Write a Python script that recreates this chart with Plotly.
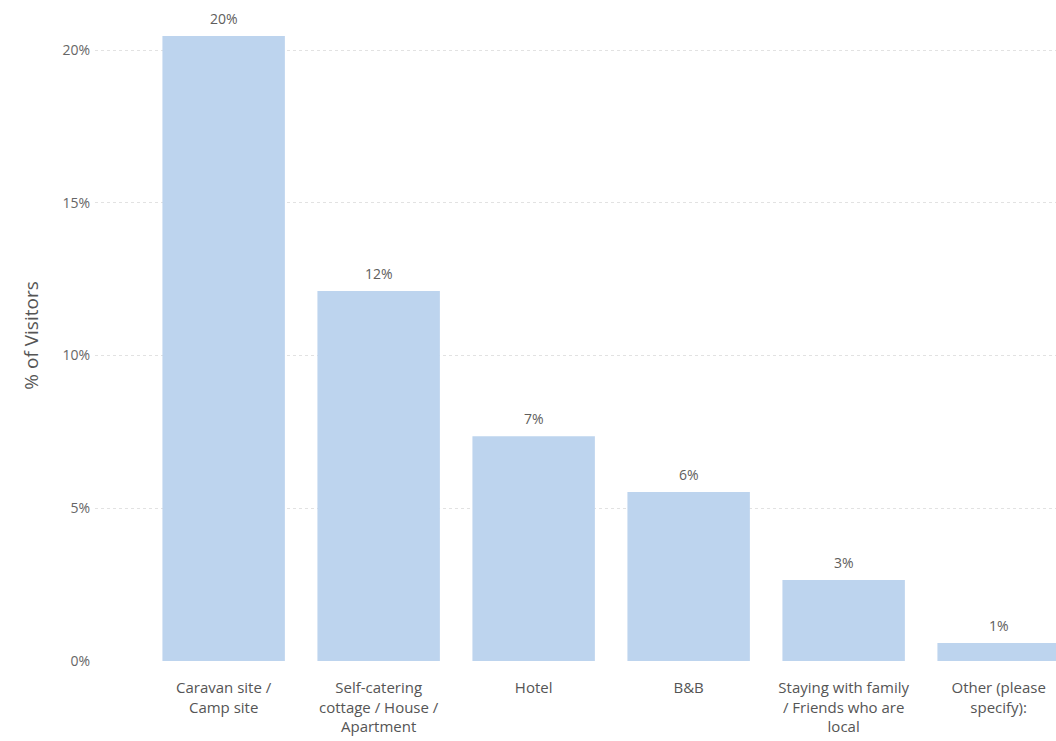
import plotly.graph_objects as go

# Where visitors stayed, share of all visitors
categories = [
    "Caravan site /<br>Camp site",
    "Self-catering<br>cottage / House /<br>Apartment",
    "Hotel",
    "B&B",
    "Staying with family<br>/ Friends who are<br>local",
    "Other (please<br>specify):",
]
share = [0.2046, 0.1211, 0.0736, 0.0553, 0.0265, 0.0059]

y_ticks = [0, 0.05, 0.10, 0.15, 0.20]
y_tick_labels = ["0%", "5%", "10%", "15%", "20%"]

font_family = "Segoe UI, Open Sans, Noto Sans, sans-serif"
text_grey = "#605E5C"
positions = list(range(len(categories)))

fig = go.Figure(
    go.Bar(
        x=positions,
        y=share,
        marker=dict(color="#BDD4EE", line=dict(width=0)),
        width=0.79,
        hoverinfo="skip",
    )
)

# value labels above each bar, formatted from the same values
for pos, value in zip(positions, share):
    fig.add_annotation(
        x=pos,
        y=value,
        text=f"{value:.0%}",
        showarrow=False,
        yanchor="bottom",
        yshift=6,
        font=dict(family=font_family, size=14, color=text_grey),
    )

fig.update_layout(
    width=1056,
    height=741,
    margin=dict(l=95, r=0, t=10, b=80),
    paper_bgcolor="white",
    plot_bgcolor="white",
    font=dict(family=font_family, color=text_grey),
    showlegend=False,
)

fig.update_xaxes(
    tickmode="array",
    tickvals=positions,
    ticktext=categories,
    range=[-0.83, 5.37],
    tickfont=dict(size=15, color="#555555"),
    showgrid=False,
    showline=False,
    zeroline=False,
    ticks="",
    ticklabelstandoff=16,
)

fig.update_yaxes(
    range=[0, 0.2131],
    tickmode="array",
    tickvals=y_ticks,
    ticktext=y_tick_labels,
    tickfont=dict(size=14, color="#666666"),
    showgrid=True,
    gridcolor="#E2E2E2",
    griddash="dot",
    gridwidth=1,
    zeroline=False,
    showline=False,
    ticks="",
    ticklabelstandoff=4,
    title=dict(
        text="% of Visitors",
        font=dict(size=19, color="#555555"),
        standoff=18,
    ),
)

fig.write_html("out.html")
